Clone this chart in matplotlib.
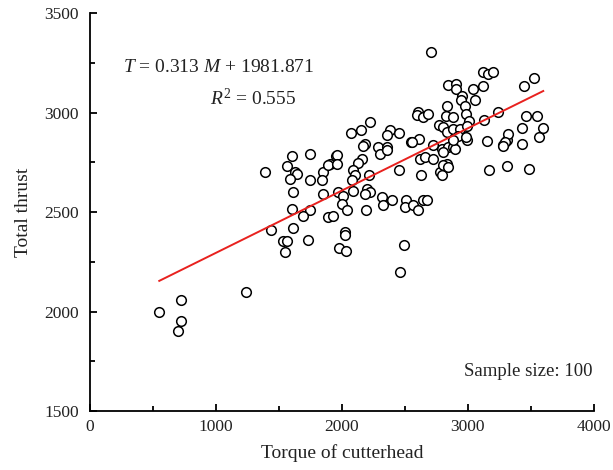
import matplotlib
matplotlib.use("Agg")
import matplotlib.pyplot as plt
import numpy as np
from matplotlib.ticker import MultipleLocator

plt.rcParams['font.family'] = 'Liberation Serif'
plt.rcParams['mathtext.fontset'] = 'custom'
plt.rcParams['mathtext.rm'] = 'Liberation Serif'
plt.rcParams['mathtext.it'] = 'Liberation Serif:italic'

# torque of cutterhead (x) and total thrust (y)
torque = [
    550, 700, 720, 720, 1240,
    1390, 1600, 1750, 1560, 1627, 1640, 1587, 1746, 1852, 1839, 1905, 1892, 1952,
    1609, 1852, 1971, 1601, 1746, 1688, 1892, 1931, 1437, 1609, 1534, 1561, 1733,
    1548, 1980, 2030, 2024, 2024,
    2222, 2069, 2151, 2381, 2360, 2453, 2288, 2355, 2302, 2360, 2183, 2169, 2548,
    2614, 1958, 1963, 2156, 2130, 2090, 2103, 2077, 2217, 2455, 2619, 2659, 2725,
    2791, 2844, 2831, 2778, 2791, 2624, 2011, 2085, 2196, 2222, 2183, 2315, 2394,
    2328, 1997, 2037, 2191, 2508, 2500, 2566, 2640, 2677, 2606, 2492, 2460,
    2804, 2844, 2725, 2884, 2990, 3170, 3307, 3487, 3148, 3281, 3307, 3426, 3566,
    2704, 3122, 3162, 3196, 3447, 3526, 2844, 2905, 2905, 3042, 3117, 2957, 2949,
    3056, 2836, 2606, 2598, 2640, 2685, 2976, 2984, 2826, 2884, 3127, 3236, 3011,
    2773, 2804, 2831, 2878, 2937, 2990, 2918, 2984, 3461, 3545, 3426, 3598, 3320,
    3294, 3281, 2804, 2897, 2884, 2553,
]
thrust = [
    2000, 1900, 1950, 2060, 2100,
    2700, 2780, 2790, 2730, 2700, 2690, 2667, 2659, 2700, 2659, 2743, 2734, 2781,
    2600, 2592, 2600, 2516, 2511, 2478, 2474, 2478, 2410, 2420, 2352, 2352, 2360,
    2298, 2320, 2306, 2398, 2382,
    2952, 2899, 2911, 2911, 2885, 2899, 2826, 2826, 2793, 2810, 2843, 2830, 2851,
    2868, 2785, 2743, 2768, 2746, 2709, 2684, 2659, 2684, 2709, 2768, 2776, 2768,
    2818, 2826, 2743, 2700, 2684, 2684, 2583, 2608, 2617, 2600, 2592, 2575, 2558,
    2533, 2541, 2508, 2508, 2558, 2524, 2533, 2558, 2558, 2511, 2336, 2197,
    2734, 2726, 2835, 2826, 2860, 2709, 2729, 2718, 2857, 2835, 2860, 2840, 2878,
    3305, 3205, 3193, 3205, 3132, 3171, 3137, 3145, 3120, 3120, 3132, 3082, 3065,
    3061, 3032, 3003, 2986, 2975, 2991, 3032, 2994, 2981, 2975, 2961, 3003, 2957,
    2936, 2927, 2902, 2919, 2919, 2931, 2880, 2877, 2981, 2981, 2922, 2922, 2894,
    2852, 2832, 2801, 2818, 2860, 2852,
]

slope = 0.313
intercept = 1981.871
r2 = 0.555
n_samples = 100

fig = plt.figure(figsize=(6.13, 4.70), dpi=100)
ax = fig.add_axes([0.1468, 0.1255, 0.822, 0.8468])

ax.scatter(torque, thrust, s=48, facecolors='white', edgecolors='black',
           linewidths=1.1, zorder=2)

xfit = np.array([min(torque), max(torque)])
ax.plot(xfit, slope * xfit + intercept, color='#e8211e', lw=1.4, zorder=3)

ax.set_xlim(0, 4000)
ax.set_ylim(1500, 3500)
ax.xaxis.set_major_locator(MultipleLocator(1000))
ax.xaxis.set_minor_locator(MultipleLocator(500))
ax.yaxis.set_major_locator(MultipleLocator(500))
ax.yaxis.set_minor_locator(MultipleLocator(250))
ax.tick_params(which='both', direction='in', width=1.3, labelsize=12.5,
               labelcolor='#222222')
ax.tick_params(which='major', length=5)
ax.tick_params(which='minor', length=3.5)
ax.tick_params(axis='y', pad=8)
ax.tick_params(axis='x', pad=6)
for side in ['top', 'right']:
    ax.spines[side].set_visible(False)
for side in ['left', 'bottom']:
    ax.spines[side].set_linewidth(1.3)

ax.set_xlabel('Torque of cutterhead', fontsize=14, color='#222222', labelpad=6)
ax.set_ylabel('Total thrust', fontsize=14, color='#222222', labelpad=9)

ax.text(262, 3228, r'$T$ = 0.313 $M$ + 1981.871', fontsize=14, va='center',
        ha='left', color='#222222')
ax.text(952, 3072, r'$R^2$ = %.3f' % r2, fontsize=14, va='center', ha='left',
        color='#222222')
ax.text(3990, 1700, 'Sample size: %d' % n_samples, fontsize=13.5, va='center',
        ha='right', color='#222222')

fig.savefig('out.png', dpi=100)
